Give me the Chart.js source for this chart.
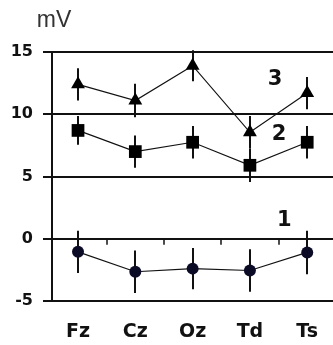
<!DOCTYPE html>
<html>
<head>
<meta charset="utf-8">
<script src="https://cdn.jsdelivr.net/npm/chart.js@4.4.1/dist/chart.umd.min.js"></script>
<style>
  html, body { margin: 0; padding: 0; background: #fff; overflow: hidden; }
  #wrap { width: 333px; height: 345px; }
</style>
</head>
<body>
<div id="wrap"><canvas id="grafica"></canvas></div>
<script>
// electrodos (categorias del eje x)
const ELECTRODOS = ["Fz", "Cz", "Oz", "Td", "Ts"];

// serie 1 (circulos)
const SERIE_1 = [-1.05, -2.65, -2.4, -2.55, -1.1];
const ERROR_1 = [1.7, 1.7, 1.65, 1.7, 1.75];

// serie 2 (cuadrados)
const SERIE_2 = [8.7, 7.0, 7.75, 5.9, 7.75];
const ERROR_2 = [1.15, 1.3, 1.3, 1.35, 1.3];

// serie 3 (triangulos)
const SERIE_3 = [12.4, 11.1, 13.9, 8.55, 11.7];
const ERROR_3 = [1.3, 1.35, 1.25, 1.3, 1.3];

const NOMBRES = ["1", "2", "3"];
const Y_TICKS = [-5, 0, 5, 10, 15];

const FUENTE = "'DejaVu Sans', sans-serif";

const aPuntos = (serie) => serie.map((v, i) => ({ x: i, y: v }));

// barras de error, marcas entre categorias y etiquetas de serie
const extras = {
  id: "extras",
  beforeDatasetsDraw(chart) {
    const { ctx, scales: { x, y } } = chart;
    ctx.save();
    ctx.strokeStyle = "#111";
    ctx.lineWidth = 2;
    chart.data.datasets.forEach((ds) => {
      ds.data.forEach((p, i) => {
        const e = ds.errores[i];
        const px = Math.round(x.getPixelForValue(p.x));
        ctx.beginPath();
        ctx.moveTo(px, y.getPixelForValue(p.y + e));
        ctx.lineTo(px, y.getPixelForValue(p.y - e));
        ctx.stroke();
      });
    });
    // marcas cortas sobre la linea del cero
    const y0 = y.getPixelForValue(0);
    ctx.lineWidth = 1.5;
    for (let i = 0; i < ELECTRODOS.length - 1; i++) {
      const px = Math.round(x.getPixelForValue(i + 0.5));
      ctx.beginPath();
      ctx.moveTo(px, y0);
      ctx.lineTo(px, y0 + 6);
      ctx.stroke();
    }
    ctx.restore();
  },
  afterDraw(chart) {
    const { ctx, scales: { x, y } } = chart;
    ctx.save();
    ctx.fillStyle = "#333";
    ctx.font = "23px 'Liberation Sans', Arial, sans-serif";
    ctx.textAlign = "center";
    ctx.textBaseline = "middle";
    ctx.fillText("mV", 54, 21);

    ctx.fillStyle = "#111";
    ctx.font = "bold 21px " + FUENTE;
    const lugares = [
      { x: 3.6, y: 1.5 },
      { x: 3.51, y: 8.35 },
      { x: 3.44, y: 12.8 },
    ];
    NOMBRES.forEach((n, i) => {
      ctx.fillText(n, x.getPixelForValue(lugares[i].x), y.getPixelForValue(lugares[i].y));
    });
    ctx.restore();
  },
};

const serie = (datos, errores, estilo, radio, color) => ({
  data: aPuntos(datos),
  errores: errores,
  borderColor: "#111",
  borderWidth: 1.2,
  pointStyle: estilo,
  pointRadius: radio,
  pointBackgroundColor: color,
  pointBorderColor: color,
  pointBorderWidth: 0,
  fill: false,
  tension: 0,
});

const crearGrafica = (canvas2D) => {
  return new Chart(canvas2D, {
    type: "line",
    data: {
      datasets: [
        serie(SERIE_1, ERROR_1, "circle", 6, "#0b0b26"),
        serie(SERIE_2, ERROR_2, "rect", 9, "#000"),
        serie(SERIE_3, ERROR_3, "triangle", 8, "#000"),
      ],
    },
    options: {
      responsive: false,
      animation: false,
      layout: { autoPadding: false, padding: { top: 52, left: 0, right: 0, bottom: 0 } },
      plugins: { legend: { display: false }, tooltip: { enabled: false } },
      scales: {
        x: {
          type: "linear",
          min: -0.454,
          max: 4.45,
          afterBuildTicks: (s) => { s.ticks = ELECTRODOS.map((_, i) => ({ value: i })); },
          afterFit: (s) => { s.height = 44; s.paddingLeft = 0; s.paddingRight = 0; },
          grid: { display: false, drawTicks: false },
          border: { display: false },
          ticks: {
            callback: (v) => ELECTRODOS[v],
            autoSkip: false,
            maxRotation: 0,
            padding: 20,
            color: "#111",
            font: { family: FUENTE, weight: "bold", size: 19 },
          },
        },
        y: {
          min: -5,
          max: 15,
          afterBuildTicks: (s) => { s.ticks = Y_TICKS.map((v) => ({ value: v })); },
          afterFit: (s) => { s.width = 52; s.paddingTop = 0; s.paddingBottom = 0; },
          grid: { color: "#111", lineWidth: 2, tickLength: 9 },
          border: { display: true, color: "#111", width: 2 },
          ticks: {
            padding: 10,
            color: "#111",
            font: { family: FUENTE, weight: "bold", size: 16 },
          },
        },
      },
    },
    plugins: [extras],
  });
};

const lienzo = document.getElementById("grafica");
lienzo.width = 333;
lienzo.height = 345;
crearGrafica(lienzo.getContext("2d"));
</script>
</body>
</html>
